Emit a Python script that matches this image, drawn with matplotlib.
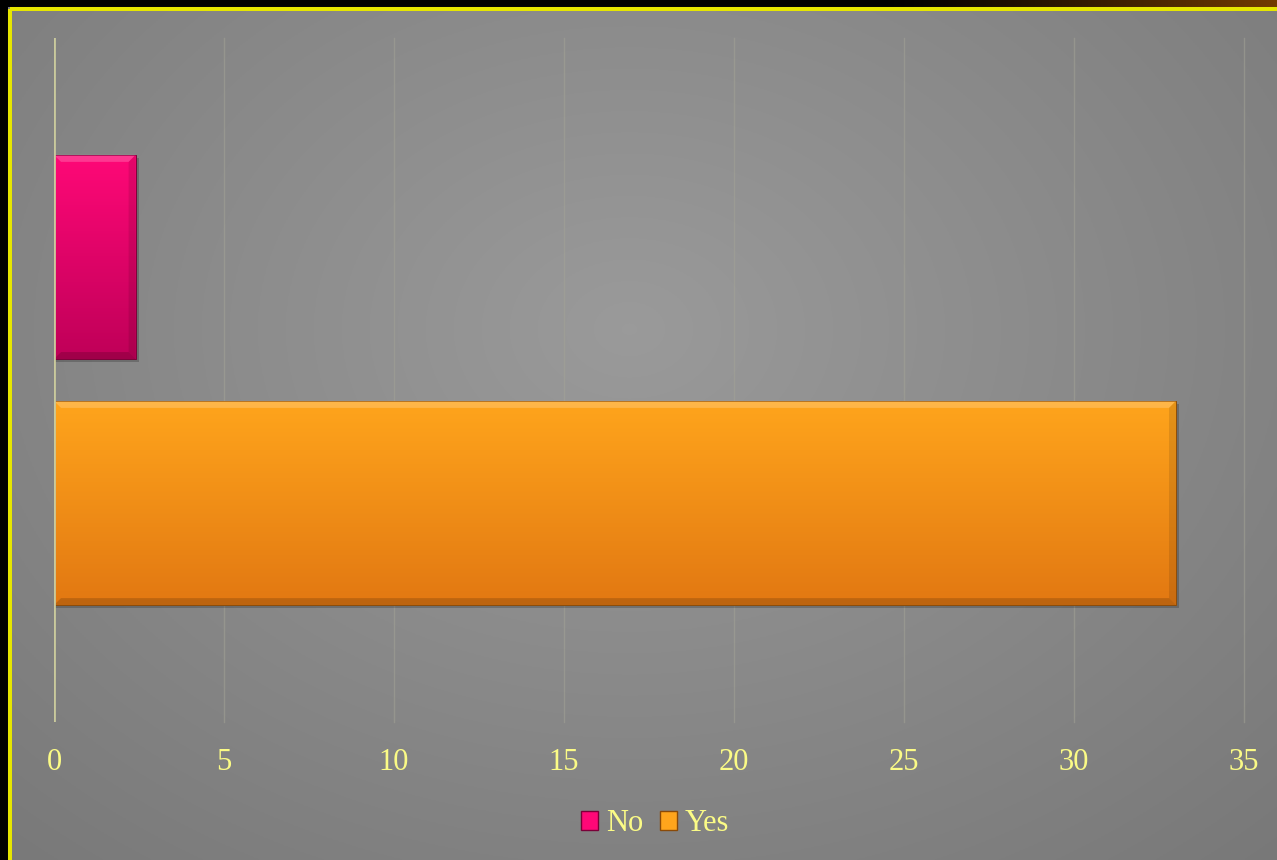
import numpy as np
import matplotlib.pyplot as plt
from matplotlib.patches import Rectangle, Polygon
from matplotlib.colors import LinearSegmentedColormap

# answers and how many said each
series = ["No", "Yes"]
values = [2.4, 33]
tops = ["#ff0877", "#ffa51c"]
bottoms = ["#bf0058", "#e27812"]
edges = ["#7a0038", "#8a4a08"]
xticks = [0, 5, 10, 15, 20, 25, 30, 35]

W, H = 1277, 860
plt.rcParams["font.family"] = ["Liberation Serif", "DejaVu Serif"]
fig = plt.figure(figsize=(W / 100, H / 100), dpi=100, facecolor="black")

# backdrop: black surround, brown glow along the top, grey panel, yellow frame
bg = fig.add_axes([0, 0, 1, 1])
bg.set_xlim(0, W)
bg.set_ylim(H, 0)
bg.axis("off")

glow = np.linspace(0, 1, 400) ** 1.2
strip = np.zeros((1, 400, 3))
strip[0, :, 0] = 0.45 * glow
strip[0, :, 1] = 0.23 * glow
bg.imshow(strip, extent=(880, W, 8, 0), aspect="auto", zorder=0)

yy, xx = np.mgrid[0:H:2, 0:W:2]
d = np.sqrt(((xx - 620) / 820.0) ** 2 + ((yy - 320) / 620.0) ** 2)
shade = np.clip(0.605 - 0.115 * d, 0, 1)
panel = np.dstack([shade, shade, shade])
bg.imshow(panel, extent=(8, W + 10, H + 10, 7), aspect="auto", zorder=1)
bg.add_patch(Rectangle((10, 9), W + 20, H + 20, fill=False,
                       edgecolor="#e6e600", lw=2.9, zorder=2))
bg.set_xlim(0, W)
bg.set_ylim(H, 0)

# plot area
L, R, T, B = 54, 1244, 38, 722
ax = fig.add_axes([L / W, (H - B) / H, (R - L) / W, (B - T) / H])
ax.set_facecolor("none")

pos = [1, 0]
bar_h = 0.83
ylo, yhi = -0.89, 1.89
xlo, xhi = 0, 35
px_x = (xhi - xlo) / (R - L)
px_y = (yhi - ylo) / (B - T)

for x in xticks[1:]:
    ax.axvline(x, color="#a3a396", lw=1, alpha=0.55, zorder=1, clip_on=False)
ax.axvline(0, color="#c9c99c", lw=2, zorder=6)

for p, v, ct, cb, ce in zip(pos, values, tops, bottoms, edges):
    y0, y1 = p - bar_h / 2, p + bar_h / 2
    # soft drop shadow
    ax.add_patch(Rectangle((0, y0 - 3 * px_y), v + 3 * px_x, bar_h,
                           color="black", alpha=0.2, lw=0, zorder=2))
    bar = ax.barh(p, v, height=bar_h, color=ct, edgecolor=ce, lw=0.6, zorder=3)[0]
    cmap = LinearSegmentedColormap.from_list("fill", [ct, cb])
    grad = np.linspace(0, 1, 256)[:, None]
    im = ax.imshow(grad, cmap=cmap, extent=(0, v, y0, y1), aspect="auto",
                   origin="upper", zorder=3.1)
    im.set_clip_path(bar)
    # bevelled edges
    bx, by = 7 * px_x, 7 * px_y
    ax.add_patch(Polygon([(0, y1), (v, y1), (v - bx, y1 - by), (bx, y1 - by)],
                         color="white", alpha=0.2, lw=0, zorder=3.2))
    ax.add_patch(Polygon([(0, y0), (v, y0), (v - bx, y0 + by), (bx, y0 + by)],
                         color="black", alpha=0.16, lw=0, zorder=3.2))
    ax.add_patch(Polygon([(v, y0), (v, y1), (v - bx, y1 - by), (v - bx, y0 + by)],
                         color="black", alpha=0.1, lw=0, zorder=3.2))
    ax.add_patch(Rectangle((0, y0), v, bar_h, fill=False, edgecolor=ce,
                           lw=0.6, alpha=0.7, zorder=3.3))

ax.set_xlim(xlo, xhi)
ax.set_ylim(ylo, yhi)
ax.set_xticks(xticks)
ax.set_xticklabels([str(t) for t in xticks])
ax.set_yticks([])
ax.tick_params(axis="x", length=0, pad=19, labelsize=22, labelcolor="#fbfb86")
for s in ax.spines.values():
    s.set_visible(False)

handles = [Rectangle((0, 0), 1, 1, facecolor=c, edgecolor=e, lw=1)
           for c, e in zip(tops, edges)]
fig.legend(handles, series, loc="center", bbox_to_anchor=(0.513, 0.042),
           ncol=2, frameon=False, fontsize=22, labelcolor="#fbfb86",
           handlelength=0.55, handleheight=0.55, handletextpad=0.25,
           columnspacing=0.55)

fig.savefig("out.png", dpi=100, facecolor="black")
